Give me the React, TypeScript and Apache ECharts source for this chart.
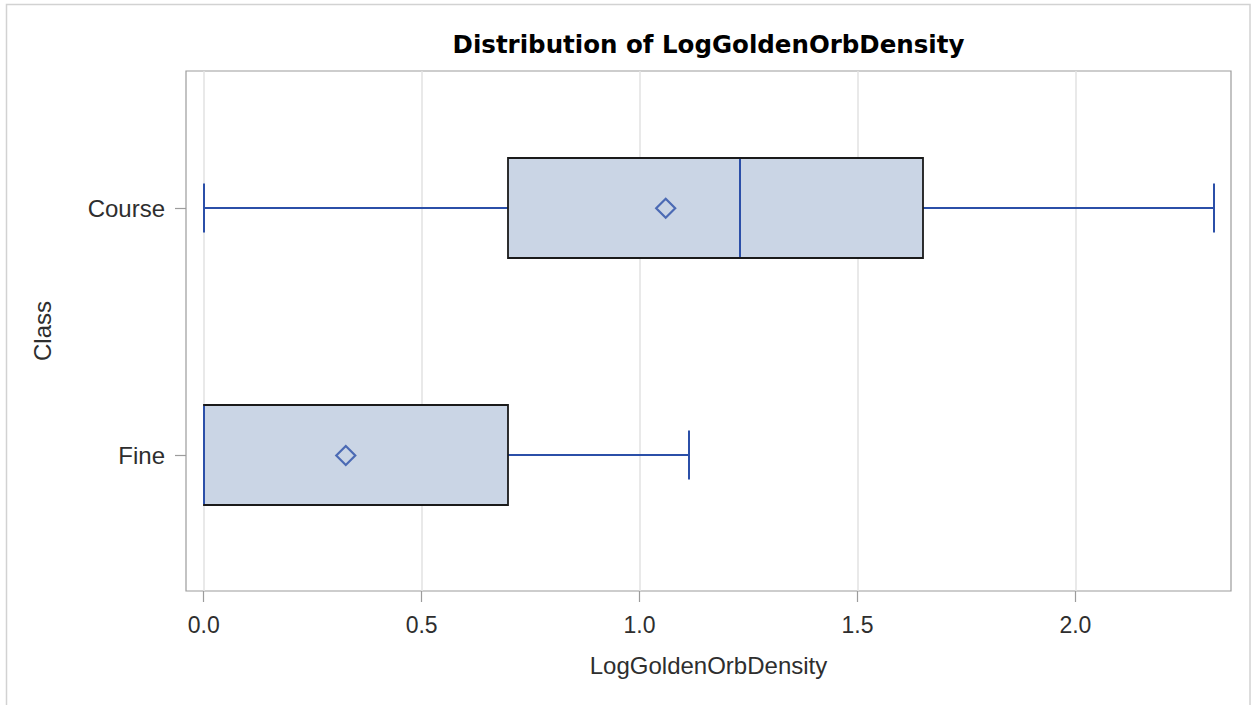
import React, { useEffect, useRef } from "react";
import * as echarts from "echarts";

const categories = ["Course", "Fine"];
const whiskerLow = [0, 0];
const q1 = [0.699, 0];
const median = [1.23, 0];
const q3 = [1.651, 0.699];
const whiskerHigh = [2.318, 1.114];
const means = [1.06, 0.326];
const xTicks = [0, 0.5, 1, 1.5, 2];

const BLUE = "#2B4FA8";
const FILL = "#CAD5E5";
const TEXT = "#2E2E2E";
const AXIS = "#9C9C9C";
const LABEL_FONT = "'Liberation Sans', Arial, sans-serif";

export default function App() {
  const ref = useRef<HTMLDivElement>(null);
  useEffect(() => {
    if (!ref.current) return;
    const chart = echarts.init(ref.current, null, { renderer: "svg" });
    const boxData = categories.map((_, i) => [i, whiskerLow[i], q1[i], median[i], q3[i], whiskerHigh[i]]);
    const meanData = categories.map((_, i) => [means[i], i]);
    const BOX_H = 100;
    const CAP_H = 49;
    const option: any = {
      animation: false,
      backgroundColor: "#ffffff",
      graphic: [
        {
          type: "rect",
          shape: { x: 6.5, y: 4.5, width: 1243.5, height: 720 },
          style: { fill: "none", stroke: "#D2D2D2", lineWidth: 1.5 },
          silent: true,
          z: -10,
        },
        {
          type: "text",
          x: 708.5,
          y: 32,
          style: {
            text: "Distribution of LogGoldenOrbDensity",
            textAlign: "center",
            textVerticalAlign: "top",
            fontFamily: "'DejaVu Sans', sans-serif",
            fontWeight: "bold",
            fontSize: 24.5,
            fill: "#000000",
          },
        },
      ],
      grid: {
        left: 186,
        right: 21,
        top: 71,
        bottom: 114,
        show: true,
        borderColor: AXIS,
        borderWidth: 1.2,
        backgroundColor: "transparent",
      },
      xAxis: {
        type: "value",
        min: -0.0406,
        max: 2.357,
        name: "LogGoldenOrbDensity",
        nameLocation: "middle",
        nameGap: 62,
        nameTextStyle: { fontFamily: LABEL_FONT, fontSize: 24, color: TEXT },
        axisLine: { show: false, onZero: false },
        axisTick: { show: true, length: 11, customValues: xTicks, lineStyle: { color: AXIS, width: 1.2 } },
        axisLabel: {
          customValues: xTicks,
          margin: 22,
          fontFamily: LABEL_FONT,
          fontSize: 23,
          color: TEXT,
          formatter: (v: number) => v.toFixed(1),
        },
        splitLine: { show: true, lineStyle: { color: "#E2E2E2", width: 1.5 } },
      },
      yAxis: {
        type: "value",
        inverse: true,
        min: -0.555,
        max: 1.548,
        name: "Class",
        nameLocation: "middle",
        nameGap: 132,
        nameRotate: 90,
        nameTextStyle: { fontFamily: LABEL_FONT, fontSize: 24, color: TEXT },
        axisLine: { show: false, onZero: false },
        axisTick: { show: true, length: 11, customValues: [0, 1], lineStyle: { color: AXIS, width: 1.2 } },
        axisLabel: {
          customValues: [0, 1],
          margin: 21,
          fontFamily: LABEL_FONT,
          fontSize: 24,
          color: TEXT,
          formatter: (v: number) => categories[Math.round(v)] ?? "",
        },
        splitLine: { show: false },
      },
      series: [
        {
          type: "custom",
          data: boxData,
          encode: { x: [1, 2, 3, 4, 5], y: 0 },
          renderItem: (params: any, api: any) => {
            const yi = api.value(0);
            const px = (v: number) => Math.round(api.coord([v, yi])[0]);
            const lo = px(api.value(1));
            const a = px(api.value(2));
            const m = px(api.value(3));
            const b = px(api.value(4));
            const hi = px(api.value(5));
            const cy = Math.round(api.coord([0, yi])[1]);
            const lineStyle = { stroke: BLUE, lineWidth: 2, fill: "none" };
            return {
              type: "group",
              children: [
                { type: "line", shape: { x1: lo, y1: cy, x2: a, y2: cy }, style: lineStyle },
                { type: "line", shape: { x1: b, y1: cy, x2: hi, y2: cy }, style: lineStyle },
                { type: "line", shape: { x1: lo, y1: cy - CAP_H / 2, x2: lo, y2: cy + CAP_H / 2 }, style: lineStyle },
                { type: "line", shape: { x1: hi, y1: cy - CAP_H / 2, x2: hi, y2: cy + CAP_H / 2 }, style: lineStyle },
                {
                  type: "rect",
                  shape: { x: a, y: cy - BOX_H / 2, width: b - a, height: BOX_H },
                  style: { fill: FILL, stroke: "#1A1A1A", lineWidth: 1.8 },
                },
                { type: "line", shape: { x1: m, y1: cy - BOX_H / 2 + 1, x2: m, y2: cy + BOX_H / 2 - 1 }, style: lineStyle },
              ],
            };
          },
          z: 3,
        },
        {
          type: "scatter",
          data: meanData,
          symbol: "diamond",
          symbolSize: 19,
          itemStyle: { color: "transparent", borderColor: BLUE, borderWidth: 2.2 },
          z: 4,
        },
      ],
    };
    chart.setOption(option);
    return () => chart.dispose();
  }, []);
  return <div ref={ref} style={{ position: "absolute", left: 0, top: 0, width: 1252, height: 705 }} />;
}
